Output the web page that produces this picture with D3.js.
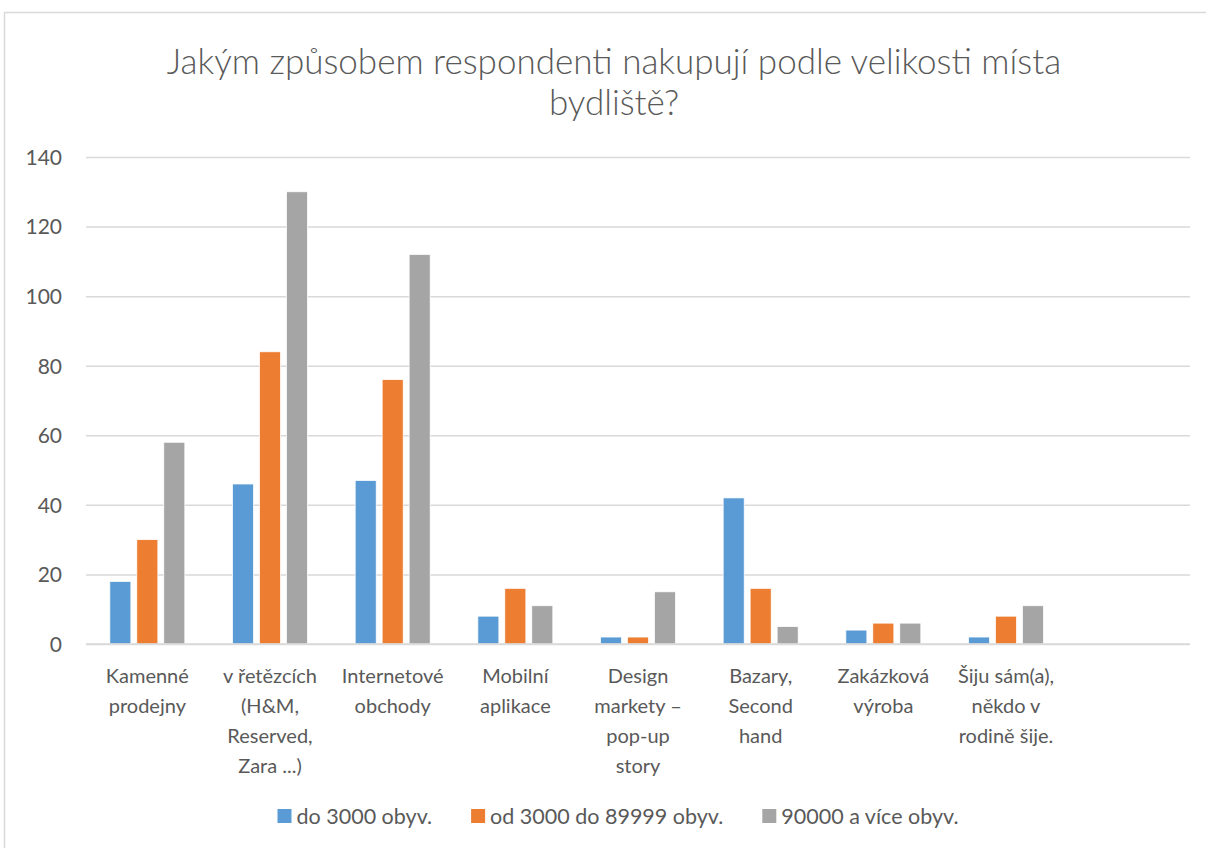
<!DOCTYPE html>
<html><head><meta charset="utf-8">
<script src="https://cdn.jsdelivr.net/npm/d3@7"></script>
<style>
html,body{margin:0;padding:0;background:#fff;}
svg{display:block;font-family:Lato,"Open Sans",sans-serif;}
</style></head>
<body>
<svg id="chart" width="1206" height="848"></svg>
<script>
const title = ["Jakým způsobem respondenti nakupují podle velikosti místa", "bydliště?"];
const categories = [
  "Kamenné\nprodejny",
  "v řetězcích\n(H&M,\nReserved,\nZara ...)",
  "Internetové\nobchody",
  "Mobilní\naplikace",
  "Design\nmarkety –\npop-up\nstory",
  "Bazary,\nSecond\nhand",
  "Zakázková\nvýroba",
  "Šiju sám(a),\nněkdo v\nrodině šije.",
  ""
];
const seriesNames = ["do 3000 obyv.", "od 3000 do 89999 obyv.", "90000 a více obyv."];
const seriesDo3000 = [18, 46, 47, 8, 2, 42, 4, 2, null];
const seriesOd3000 = [30, 84, 76, 16, 2, 16, 6, 8, null];
const series90000 = [58, 130, 112, 11, 15, 5, 6, 11, null];
const yTicks = [0, 20, 40, 60, 80, 100, 120, 140];
const colors = ["#5B9BD5", "#ED7D31", "#A5A5A5"];

const allSeries = [seriesDo3000, seriesOd3000, series90000];
const svg = d3.select("#chart");
const textColor = "#595959";

// chart border
svg.append("rect").attr("x", 4.5).attr("y", 12.5).attr("width", 1210).attr("height", 850)
  .attr("fill", "none").attr("stroke", "#D9D9D9").attr("stroke-width", 1.5);

// title
svg.append("g").selectAll("text").data(title).join("text")
  .attr("x", 614).attr("y", (d, i) => 74 + i * 41)
  .attr("text-anchor", "middle").attr("fill", textColor)
  .attr("font-size", 35).attr("font-weight", 300)
  .text(d => d);

const margin = {left: 86, right: 1190, top: 157, bottom: 644};
const x = d3.scaleBand().domain(d3.range(categories.length)).range([margin.left, margin.right]).paddingInner(0).paddingOuter(0);
const y = d3.scaleLinear().domain([0, 140]).range([margin.bottom, margin.top]);
const inner = 75;
const xs = d3.scaleBand().domain(d3.range(3)).range([0, inner]).paddingInner(0.22);

// gridlines
const yAxis = d3.axisLeft(y).tickValues(yTicks).tickSize(-(margin.right - margin.left)).tickFormat(d3.format("d")).tickPadding(24);
const gy = svg.append("g").attr("transform", `translate(${margin.left},0)`).call(yAxis);
gy.select(".domain").remove();
gy.selectAll(".tick line").attr("stroke", "#D9D9D9").attr("stroke-width", 1.5);
gy.selectAll(".tick text").attr("fill", textColor).attr("font-size", 21).attr("font-family", "Lato, sans-serif").attr("dy", "0.35em");

// bars
const groups = svg.append("g").selectAll("g").data(categories).join("g")
  .attr("transform", (d, i) => `translate(${x(i) + (x.bandwidth() - inner) / 2},0)`);
groups.selectAll("rect").data((d, i) => allSeries.map((s, k) => ({k, v: s[i]})).filter(e => e.v != null))
  .join("rect")
  .attr("x", e => xs(e.k)).attr("width", xs.bandwidth())
  .attr("y", e => y(e.v)).attr("height", e => y(0) - y(e.v))
  .attr("fill", e => colors[e.k]).attr("stroke", "#fff").attr("stroke-width", 0.75);

// x axis line
svg.append("line").attr("x1", margin.left).attr("x2", margin.right)
  .attr("y1", y(0)).attr("y2", y(0)).attr("stroke", "#D9D9D9").attr("stroke-width", 1.5);

// x labels
const xl = svg.append("g").selectAll("text").data(categories).join("text")
  .attr("text-anchor", "middle").attr("fill", textColor).attr("font-size", 20)
  .attr("transform", (d, i) => `translate(${x(i) + x.bandwidth() / 2},683)`);
xl.selectAll("tspan").data(d => d.split("\n")).join("tspan")
  .attr("x", 0).attr("y", (d, j) => j * 30).text(d => d);

// legend: sequential layout centred under the plot
const legG = svg.append("g");
const items = legG.selectAll("g").data(seriesNames).join("g");
items.append("rect").attr("x", 0).attr("y", -7).attr("width", 14).attr("height", 14).attr("fill", (d, i) => colors[i]);
items.append("text").attr("x", 19).attr("y", 0).attr("dy", "0.35em").attr("fill", textColor).attr("font-size", 21.5).text(d => d);
let cx = 0;
const offs = [];
items.each(function () {
  offs.push(cx);
  const w = d3.select(this).select("text").node().getComputedTextLength();
  cx += 19 + w + 39;
});
const total = cx - 39;
const startX = 618 - total / 2;
items.attr("transform", (d, i) => `translate(${startX + offs[i]},816)`);
</script>
</body></html>
